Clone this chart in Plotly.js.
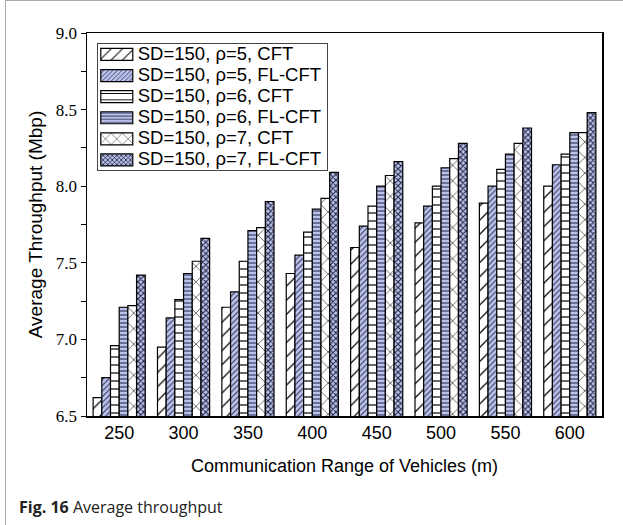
<!DOCTYPE html>
<html>
<head>
<meta charset="utf-8">
<script src="https://cdn.plot.ly/plotly-3.0.1.min.js"></script>
<style>
html,body{margin:0;padding:0;background:#fff;}
#frame{position:absolute;left:5px;top:0;width:640px;height:540px;border-left:1px solid #aaa;border-top:1px solid #aaa;pointer-events:none;}
#chart{width:623px;height:525px;}
</style>
</head>
<body>
<div id="chart"></div>
<div id="frame"></div>
<script>
const categories = ['250','300','350','400','450','500','550','600'];
const seriesNames = ['SD=150, ρ=5, CFT','SD=150, ρ=5, FL-CFT','SD=150, ρ=6, CFT','SD=150, ρ=6, FL-CFT','SD=150, ρ=7, CFT','SD=150, ρ=7, FL-CFT'];
const cft5   = [6.62, 6.95, 7.21, 7.43, 7.60, 7.76, 7.89, 8.00];
const flcft5 = [6.75, 7.14, 7.31, 7.55, 7.74, 7.87, 8.00, 8.14];
const cft6   = [6.96, 7.26, 7.51, 7.70, 7.87, 8.00, 8.11, 8.21];
const flcft6 = [7.21, 7.43, 7.71, 7.85, 8.00, 8.12, 8.21, 8.35];
const cft7   = [7.22, 7.51, 7.73, 7.92, 8.07, 8.18, 8.28, 8.35];
const flcft7 = [7.42, 7.66, 7.90, 8.09, 8.16, 8.28, 8.38, 8.48];
const yTicks = [6.5, 7.0, 7.5, 8.0, 8.5, 9.0];
const yTickLabels = ['6.5','7.0','7.5','8.0','8.5','9.0'];

const blue = '#bac2ee';
const styles = [
  {shape:'/', bg:'#ffffff', fg:'#000000', size:10, sol:0.12},
  {shape:'/', bg:blue, fg:'#30304a', size:4, sol:0.25},
  {shape:'-', bg:'#ffffff', fg:'#000000', size:8, sol:0.15},
  {shape:'-', bg:blue, fg:'#30304a', size:4, sol:0.28},
  {shape:'x', bg:'#ffffff', fg:'#000000', size:11, sol:0.1},
  {shape:'x', bg:blue, fg:'#22223a', size:4, sol:0.45}
];
const values = [cft5, flcft5, cft6, flcft6, cft7, flcft7];

const data = values.map((v,i)=>({
  type:'bar', x:categories, y:v, name:seriesNames[i],
  marker:{
    color:styles[i].bg,
    line:{color:'#000', width:1.2},
    pattern:{shape:styles[i].shape, bgcolor:styles[i].bg, fgcolor:styles[i].fg, size:styles[i].size, solidity:styles[i].sol, fillmode:'replace'}
  }
}));

const layout = {
  width:623, height:525,
  margin:{l:87, r:21, t:33, b:109},
  paper_bgcolor:'#fff', plot_bgcolor:'#fff',
  barmode:'group', bargap:0.19, bargroupgap:0,
  showlegend:true,
  legend:{x:0.019, y:0.974, xanchor:'left', yanchor:'top', bgcolor:'#fff', bordercolor:'#444', borderwidth:1,
    font:{family:'Liberation Sans, Arial, sans-serif', size:18.5, color:'#000'}, itemwidth:30, tracegroupgap:0, traceorder:'normal'},
  xaxis:{type:'category', showline:true, linecolor:'#000', linewidth:1.5, mirror:true, ticks:'', showgrid:false,
    tickfont:{family:'Liberation Sans, Arial, sans-serif', size:18, color:'#000'},
    title:{text:'Communication Range of Vehicles (m)', font:{family:'Liberation Sans, Arial, sans-serif', size:18, color:'#000'}, standoff:17}},
  yaxis:{range:[6.5,9.0], showline:true, linecolor:'#000', linewidth:1.5, mirror:true, showgrid:false, zeroline:false,
    tickmode:'array', tickvals:yTicks, ticktext:yTickLabels, ticks:'outside', ticklen:5, tickcolor:'#000', tickwidth:1,
    minor:{dtick:0.25, ticks:'outside', ticklen:5, tickcolor:'#000', tickwidth:1, showgrid:false},
    tickfont:{family:'Liberation Serif, Times New Roman, serif', size:17, color:'#000'},
    title:{text:'Average Throughput (Mbp)', font:{family:'Liberation Sans, Arial, sans-serif', size:19, color:'#000'}, standoff:8}},
  annotations:[{
    xref:'paper', yref:'paper', x:-0.136, y:-0.237, xanchor:'left', yanchor:'middle', showarrow:false,
    text:'<b>Fig. 16</b> Average throughput', font:{family:'Open Sans, Noto Sans, sans-serif', size:16, color:'#222'}
  }]
};

Plotly.newPlot('chart', data, layout, {displayModeBar:false, staticPlot:true}).then(gd=>{
  const rowH = 21.1, firstCenter = 11.5, boxH = 127;
  const traces = gd.querySelectorAll('.legend .traces');
  traces.forEach((t,i)=>{
    const m = /translate\(\s*([-\d.]+)[ ,]+([-\d.]+)\s*\)/.exec(t.getAttribute('transform')||'');
    const tx = m ? parseFloat(m[1]) : 0;
    const txt = t.querySelector('text.legendtext');
    let c = 0;
    if (txt) { const bb = txt.getBBox(); c = bb.y + bb.height/2 + 1; }
    t.setAttribute('transform','translate('+tx+','+(firstCenter + rowH*i - c)+')');
    const lp = t.querySelector('.legendpoints');
    if (lp) lp.setAttribute('transform','translate(-1,'+c+')');
  });
  gd.querySelectorAll('.legend .traces .legendpoints path').forEach(p=>{
    p.setAttribute('d','M16,6H-16V-6H16Z');
  });
  const bg = gd.querySelector('.legend rect.bg');
  if (bg) bg.setAttribute('height', String(boxH));
});
</script>
</body>
</html>
